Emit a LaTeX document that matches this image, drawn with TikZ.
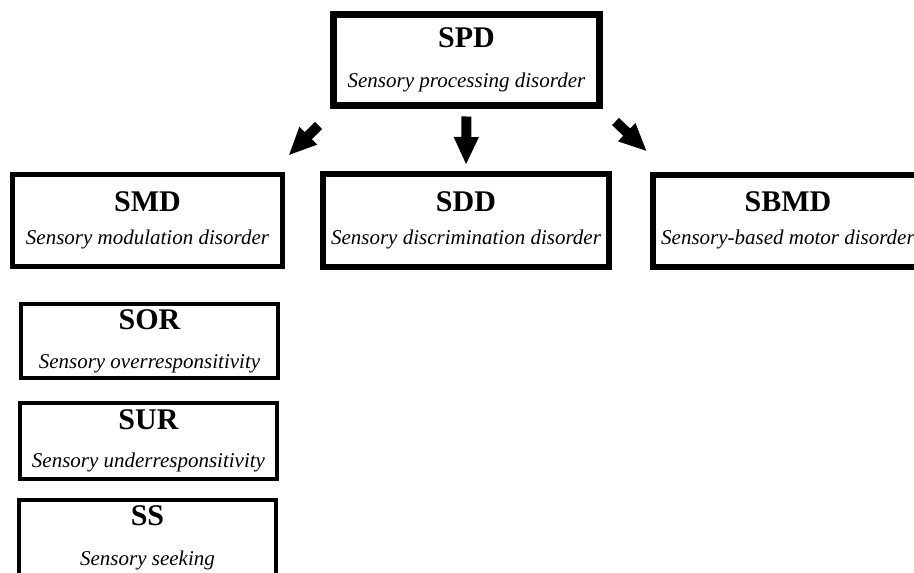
\documentclass[tikz,border=0pt]{standalone}
\usepackage{fontspec}
\setmainfont{Liberation Serif}
\usetikzlibrary{positioning,arrows.meta,calc}
\newcommand{\boxtitle}[1]{{\fontsize{30}{30}\selectfont\bfseries #1}}
\newcommand{\boxsub}[1]{\textit{#1}}

\begin{document}
\begin{tikzpicture}[
x=1pt, y=-1pt,
box/.style={draw, line width=5pt, inner sep=0pt, align=center, minimum width=270pt, minimum height=92pt, font=\fontsize{21}{33}\selectfont},
subbox/.style={box, line width=4pt, minimum width=257pt, minimum height=76pt, font=\fontsize{21}{38}\selectfont},
bigarrow/.style={line width=10pt, -{Triangle[length=28pt, width=23pt]}}
]
\useasboundingbox (0,0) rectangle (914,573);

\node[box, line width=7pt, minimum width=266pt, minimum height=91pt, font=\fontsize{21}{40}\selectfont] (spd) at (466.5,60) {\boxtitle{SPD}\\\boxsub{Sensory processing disorder}};
\node[box] (smd) at (147.5,220.5) {\boxtitle{SMD}\\\boxsub{Sensory modulation disorder}};
\node[box, line width=6pt, minimum width=286pt, minimum height=93pt] (sdd) at (466,220.5) {\boxtitle{SDD}\\\boxsub{Sensory discrimination disorder}};
\node[box, line width=6pt] (sbmd) at (788,220.5) {\boxtitle{SBMD}\\\boxsub{Sensory-based motor disorder}};
\node[subbox, line width=3.5pt, minimum height=74pt, font=\fontsize{21}{39}\selectfont] (sor) at (149.5,341) {\boxtitle{SOR}\\\boxsub{Sensory overresponsitivity}};
\node[subbox] (sur) at (148.5,441) {\boxtitle{SUR}\\\boxsub{Sensory underresponsitivity}};
\node[subbox, font=\fontsize{21}{40}\selectfont] (ss) at (147.5,538) {\boxtitle{SS}\\\boxsub{Sensory seeking}};

% arrow ends
\coordinate (smdtail) at ($(spd.south west)+(-11.5,16.5)$);
\coordinate (smdtip) at ($(smd.north east)+(3.5,-16.5)$);
\coordinate (sbmdtail) at ($(spd.south east)+(12.5,12.5)$);
\coordinate (sbmdtip) at ($(sbmd.north west)+(-3,-20)$);

\draw[bigarrow] (smdtail) -- (smdtip);
\draw[bigarrow, shorten <=7.5pt, shorten >=6pt] (spd.south) -- (sdd.north);
\draw[bigarrow] (sbmdtail) -- (sbmdtip);
\end{tikzpicture}
\end{document}
